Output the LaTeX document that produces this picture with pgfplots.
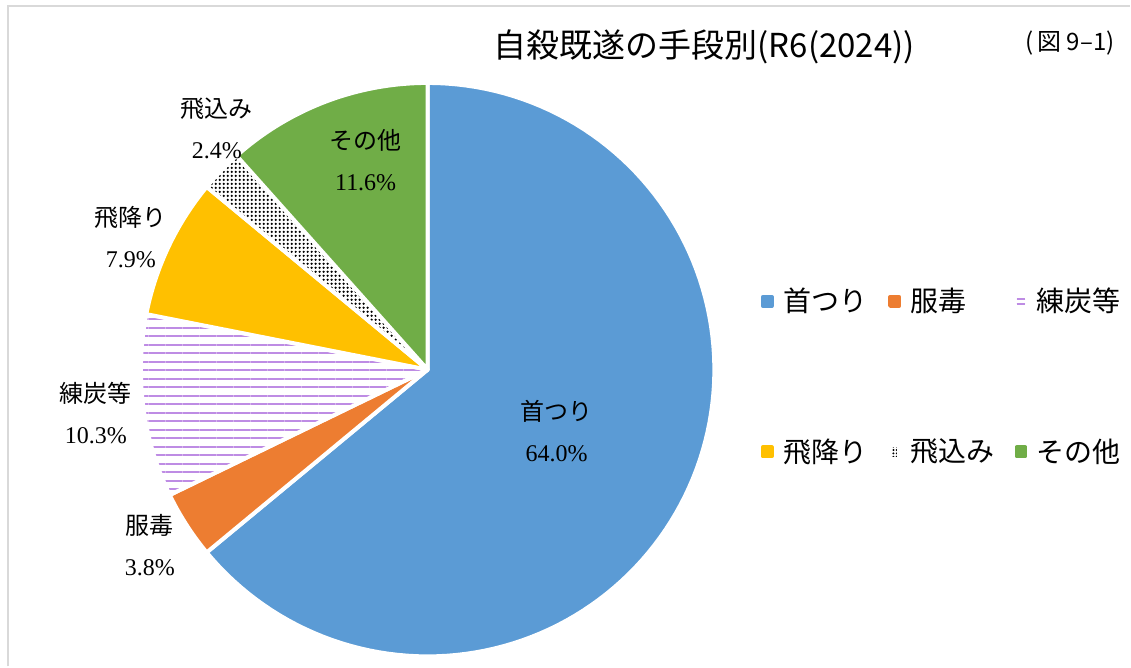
\documentclass[border=0pt]{standalone}
\usepackage{fontspec}
\setmainfont{Liberation Serif}
\newfontfamily\jp{Noto Sans CJK JP}
\usepackage{pgfplots}
\pgfplotsset{compat=1.18}
\usetikzlibrary{patterns,patterns.meta}
\definecolor{cBlue}{RGB}{91,155,213}
\definecolor{cOrange}{RGB}{237,125,49}
\definecolor{cYellow}{RGB}{255,192,0}
\definecolor{cGreen}{RGB}{112,173,71}
\definecolor{cPurple}{RGB}{190,140,228}
\definecolor{cFrame}{RGB}{217,217,217}

% shares in percent, clockwise from 12 o'clock
\def\vA{64.0} % 首つり
\def\vB{3.8}  % 服毒
\def\vC{10.3} % 練炭等
\def\vD{7.9}  % 飛降り
\def\vE{2.4}  % 飛込み
\def\vF{11.6} % その他
\pgfmathsetmacro\aA{90}
\pgfmathsetmacro\aB{\aA-3.6*\vA}
\pgfmathsetmacro\aC{\aB-3.6*\vB}
\pgfmathsetmacro\aD{\aC-3.6*\vC}
\pgfmathsetmacro\aE{\aD-3.6*\vD}
\pgfmathsetmacro\aF{\aE-3.6*\vE}
\pgfmathsetmacro\aG{\aF-3.6*\vF}
\def\cx{428}\def\cy{297}\def\r{287}

\begin{document}
\begin{tikzpicture}
\begin{axis}[
  width=565.5pt, height=333.5pt, scale only axis,
  xmin=0, xmax=1131, ymin=0, ymax=667,
  hide axis, clip=false,
  samples=120,
  every axis plot/.append style={draw=white, line width=2pt, line join=round},
  legend columns=3,
  legend cell align=left,
  legend style={at={(axis cs:761,383)}, anchor=north west, draw=none, fill=none,
    font=\jp\fontsize{14}{16}\selectfont, row sep=58pt, inner sep=0pt,
    /tikz/column 1/.style={column sep=2.75pt},
    /tikz/column 3/.style={column sep=2.75pt},
    /tikz/column 5/.style={column sep=2.75pt},
    /tikz/column 2/.style={column sep=8.5pt},
    /tikz/column 4/.style={column sep=8pt}},
]
\path (axis cs:0,0) rectangle (axis cs:1131,667);
\draw[cFrame, line width=1pt] (axis cs:8,0) -- (axis cs:8,661) -- (axis cs:1131,661);

\addplot[fill=cBlue, domain=\aB:\aA,
  legend image code/.code={\fill[cBlue] (0pt,-2.25pt) rectangle (4.5pt,2.25pt);}]
  ({\cx+\r*cos(x)},{\cy+\r*sin(x)}) -- (axis cs:\cx,\cy) -- cycle;
\addlegendentry{首つり}
\addplot[fill=cOrange, domain=\aC:\aB,
  legend image code/.code={\fill[cOrange] (0pt,-2.25pt) rectangle (4.5pt,2.25pt);}]
  ({\cx+\r*cos(x)},{\cy+\r*sin(x)}) -- (axis cs:\cx,\cy) -- cycle;
\addlegendentry{服毒}
\addplot[pattern={Lines[angle=0,distance=4.25pt,line width=1pt]}, pattern color=cPurple,
  domain=\aD:\aC,
  legend image code/.code={\draw[cPurple, line width=0.9pt] (0pt,-1.2pt) -- (4.5pt,-1.2pt) (0pt,1.2pt) -- (4.5pt,1.2pt);}]
  ({\cx+\r*cos(x)},{\cy+\r*sin(x)}) -- (axis cs:\cx,\cy) -- cycle;
\addlegendentry{練炭等}
\addplot[fill=cYellow, domain=\aE:\aD,
  legend image code/.code={\fill[cYellow] (0pt,-2.25pt) rectangle (4.5pt,2.25pt);}]
  ({\cx+\r*cos(x)},{\cy+\r*sin(x)}) -- (axis cs:\cx,\cy) -- cycle;
\addlegendentry{飛降り}
\addplot[pattern={Dots[distance=2pt,radius=0.62pt]}, pattern color=black, domain=\aF:\aE,
  legend image code/.code={\fill[pattern={Dots[distance=1.7pt,radius=0.55pt]}, pattern color=black] (0pt,-3.4pt) rectangle (4.5pt,3.4pt);}]
  ({\cx+\r*cos(x)},{\cy+\r*sin(x)}) -- (axis cs:\cx,\cy) -- cycle;
\addlegendentry{飛込み}
\addplot[fill=cGreen, domain=\aG:\aF,
  legend image code/.code={\fill[cGreen] (0pt,-2.25pt) rectangle (4.5pt,2.25pt);}]
  ({\cx+\r*cos(x)},{\cy+\r*sin(x)}) -- (axis cs:\cx,\cy) -- cycle;
\addlegendentry{その他}

% data labels
\begin{scope}[every node/.style={align=center, font=\fontsize{12}{20.5}\selectfont}]
\node at (axis cs:557,236) {{\jp 首つり}\\64.0\%};
\node at (axis cs:150,121.5) {{\jp 服毒}\\3.8\%};
\node at (axis cs:96,254) {{\jp 練炭等}\\10.3\%};
\node at (axis cs:131,429.5) {{\jp 飛降り}\\7.9\%};
\node at (axis cs:217,538.5) {{\jp 飛込み}\\2.4\%};
\node at (axis cs:366,506.5) {{\jp その他}\\11.6\%};
\end{scope}

% titles
\node[font=\jp\fontsize{16.5}{18}\selectfont] at (axis cs:705,620) {自殺既遂の手段別(R6(2024))};
\node[font=\jp\fontsize{12}{14}\selectfont] at (axis cs:1071,624) {(\kern2pt図 9–1)};
\end{axis}
\end{tikzpicture}
\end{document}
